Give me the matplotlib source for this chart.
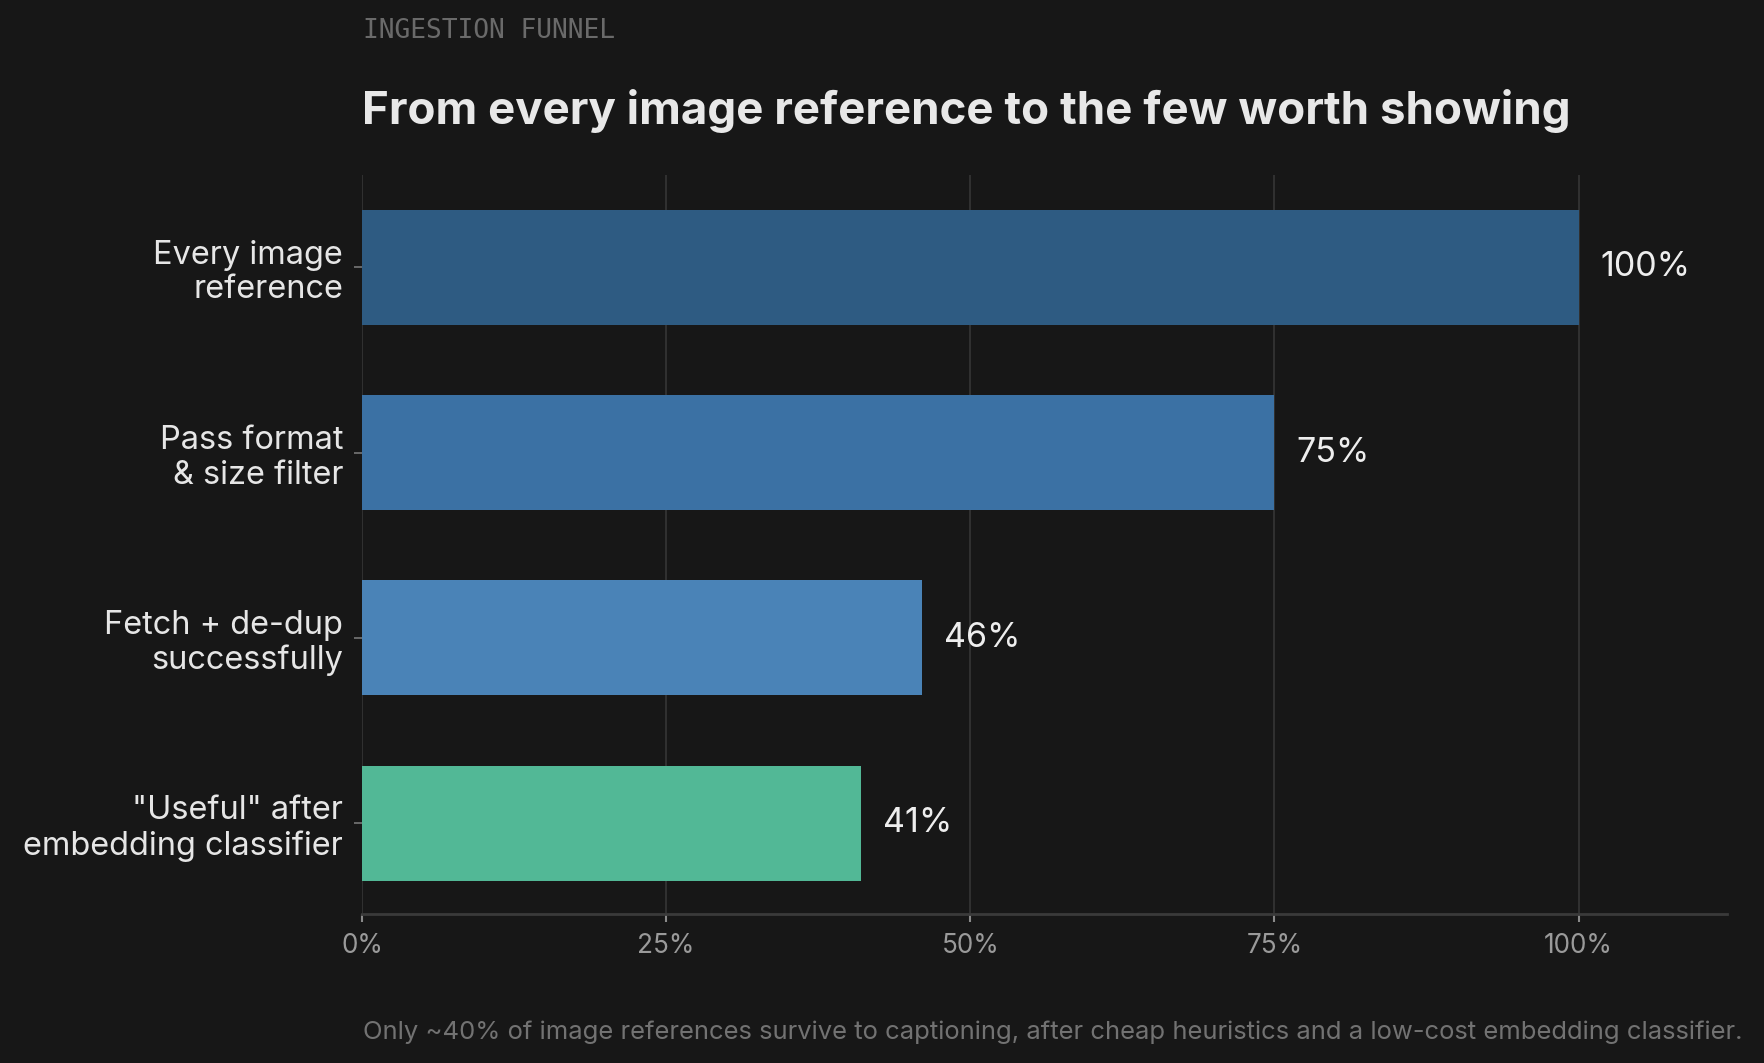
import matplotlib
matplotlib.use("Agg")
import matplotlib.pyplot as plt
from matplotlib.ticker import FuncFormatter

# ---- data ----
categories = ["Every image\nreference", "Pass format\n& size filter",
              "Fetch + de-dup\nsuccessfully", "\"Useful\" after\nembedding classifier"]
values = [100, 75, 46, 41]
value_labels = ["100%", "75%", "46%", "41%"]
bar_colors = ["#2E5B82", "#3B71A4", "#4A83B7", "#52B896"]
xticks = [0, 25, 50, 75, 100]

eyebrow = "INGESTION FUNNEL"
title = "From every image reference to the few worth showing"
footer = ("Only ~40% of image references survive to captioning, after cheap "
          "heuristics and a low-cost embedding classifier.")

BG = "#171717"
W, H = 1765, 1063
fig = plt.figure(figsize=(W / 100, H / 100), dpi=100, facecolor=BG)
ax = fig.add_axes([362 / W, 1 - 914 / H, (1727 - 362) / W, (914 - 174.5) / H])
ax.set_facecolor(BG)

ypos = list(range(len(categories)))
ax.barh(ypos, values, height=0.62, color=bar_colors, zorder=3)

for y, v, lab in zip(ypos, values, value_labels):
    ax.annotate(lab, xy=(v, y), xytext=(16, 0), textcoords="offset points",
                ha="left", va="center", fontsize=24.5, color="#EEEEEE",
                family=["Inter", "DejaVu Sans"])

ax.set_xlim(0, 112.2)
ax.set_ylim(3.49, -0.5)
ax.set_xticks(xticks)
ax.xaxis.set_major_formatter(FuncFormatter(lambda v, p: f"{v:.0f}%"))
ax.set_yticks(ypos)
ax.set_yticklabels(categories, linespacing=1.15)

for lbl in ax.get_yticklabels():
    lbl.set_family(["Inter", "DejaVu Sans"])
    lbl.set_fontsize(23.4)
    lbl.set_color("#E6E6E6")
for lbl in ax.get_xticklabels():
    lbl.set_family(["Inter", "DejaVu Sans"])
    lbl.set_fontsize(18.8)
    lbl.set_color("#9A9A9A")

ax.tick_params(axis="x", length=6, width=1.5, color="#8A8A8A", pad=8)
ax.tick_params(axis="y", length=6, width=1.2, color="#777777", pad=7.5)

ax.grid(axis="x", color="#333333", linewidth=1.3, zorder=0)
ax.grid(axis="y", visible=False)
for s in ["top", "right", "left"]:
    ax.spines[s].set_visible(False)
ax.spines["bottom"].set_color("#3A3A3A")
ax.spines["bottom"].set_linewidth(2)

fig.text(363 / W, 1 - 38 / H, eyebrow, ha="left", va="baseline",
         fontsize=18.9, color="#6A6A6A", family=["DejaVu Sans Mono"])
fig.text(362 / W, 1 - 124 / H, title, ha="left", va="baseline",
         fontsize=32.9, fontweight="bold", color="#E8E8E8",
         family=["Inter", "DejaVu Sans"])
fig.text(363 / W, 1 - 1039 / H, footer, ha="left", va="baseline",
         fontsize=18.45, color="#727272", family=["Inter", "DejaVu Sans"])

fig.savefig("out.png", dpi=100, facecolor=BG)
